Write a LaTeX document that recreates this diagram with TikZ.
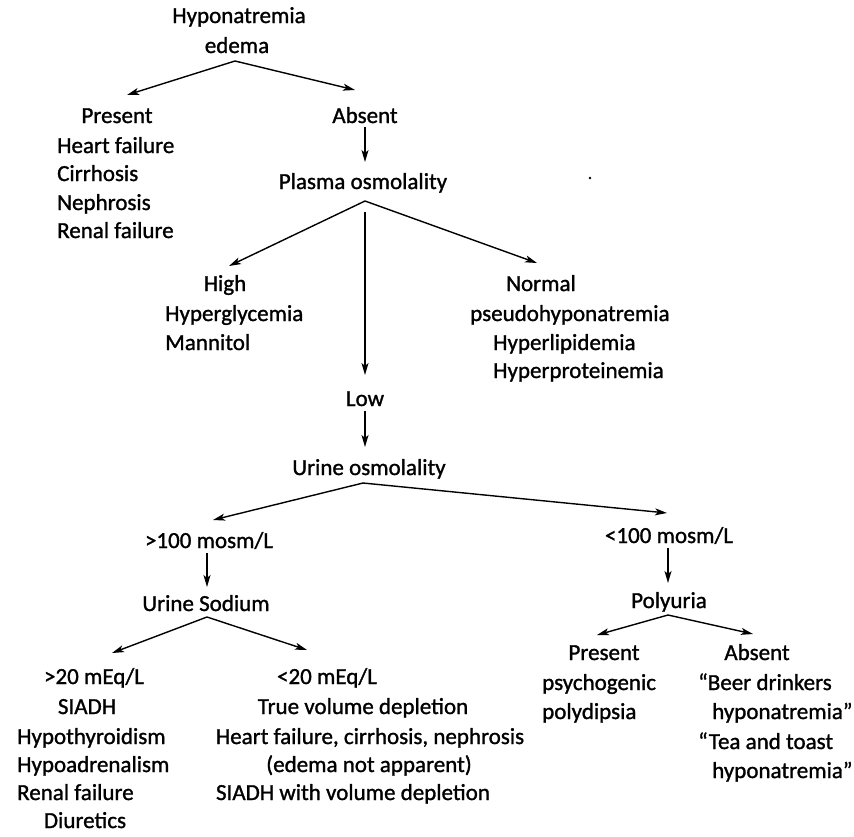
\documentclass[tikz,border=0pt]{standalone}
\usepackage{fontspec}
\setmainfont{Carlito}[FakeBold=1.2]
\usetikzlibrary{arrows.meta}
\begin{document}
\begin{tikzpicture}[x=1pt,y=-1pt,
  lbl/.style={inner sep=0pt,anchor=base,font=\fontsize{23}{28}\selectfont},
  lbw/.style={lbl,anchor=base west},
  arr/.style={line width=1.4pt,-{Stealth[length=12pt,width=7pt,inset=3pt]}}]
\useasboundingbox (0,0) rectangle (854,836);
% top
\node[lbl] (hypo) at (239,23) {Hyponatremia};
\node[lbl] (edema) at (237,53) {edema};
\node[lbl] (presA) at (117,123) {Present};
\node[lbw] (hf1) at (57,153) {Heart failure};
\node[lbw] (cir1) at (57,181) {Cirrhosis};
\node[lbw] (nep1) at (57,210) {Nephrosis};
\node[lbw] (ren1) at (57,238) {Renal failure};
\node[lbl] (absA) at (365,123) {Absent};
\node[lbl] (plasma) at (363,189) {Plasma osmolality};
\node[lbl] (high) at (225,291) {High};
\node[lbw] (hyperg) at (165,321) {Hyperglycemia};
\node[lbw] (mann) at (165,350) {Mannitol};
\node[lbl] (normal) at (541,291) {Normal};
\node[lbw] (pseudo) at (470,321) {pseudohyponatremia};
\node[lbw] (hlip) at (493,350) {Hyperlipidemia};
\node[lbw] (hprot) at (493,378) {Hyperproteinemia};
\node[lbl] (low) at (365,406) {Low};
\node[lbl] (uosm) at (369,475) {Urine osmolality};
\node[lbl] (gt100) at (209,548) {>100 mosm/L};
\node[lbl] (una) at (206,611) {Urine Sodium};
\node[lbl] (lt100) at (669,543) {<100 mosm/L};
\node[lbl] (poly) at (669,608) {Polyuria};
% bottom left
\node[lbl] (gt20) at (94,684) {>20 mEq/L};
\node[lbl] (siadh) at (87,714) {SIADH};
\node[lbw] (hthy) at (17,744) {Hypothyroidism};
\node[lbw] (hadr) at (17,772) {Hypoadrenalism};
\node[lbw] (ren2) at (17,800) {Renal failure};
\node[lbl] (diur) at (85,828) {Diuretics};
\node[lbl] (lt20) at (327,684) {<20 mEq/L};
\node[lbl] (tvd) at (363,714) {True volume depletion};
\node[lbl] (hfc) at (370,744) {Heart failure, cirrhosis, nephrosis};
\node[lbl] (ena) at (369,772) {(edema not apparent)};
\node[lbl] (svd) at (353,800) {SIADH with volume depletion};
% bottom right
\node[lbl] (presB) at (604,660) {Present};
\node[lbw] (psy) at (542,690) {psychogenic};
\node[lbw] (pdip) at (542,719) {polydipsia};
\node[lbl] (absB) at (757,660) {Absent};
\node[lbw] (beer1) at (698,690) {“Beer drinkers};
\node[lbw] (beer2) at (712,719) {hyponatremia”};
\node[lbw] (tea1) at (698,749) {“Tea and toast};
\node[lbw] (tea2) at (712,778) {hyponatremia”};
% stray dot
\fill (590,178) circle (1.3pt);
% fork coordinates
\coordinate (ap1) at (235,61);
\coordinate (toPresA) at (127,95);
\coordinate (toAbsA) at (355,90);
\coordinate (ap2) at (365,201);
\coordinate (toHigh) at (229,266);
\coordinate (toNormal) at (537,263);
\coordinate (ap3) at (363,483);
\coordinate (toGt) at (213,520);
\coordinate (toLt) at (667,513);
\coordinate (ap4) at (207,617);
\coordinate (toGt20) at (112,653);
\coordinate (toLt20) at (307,650);
\coordinate (ap5) at (668,615);
\coordinate (toPresB) at (597,635);
\coordinate (toAbsB) at (753,634);
% connectors
\draw[arr] (ap1) -- (toPresA);
\draw[arr] (ap1) -- (toAbsA);
\draw[arr] (365,127) -- (365,162);
\draw[arr] (ap2) -- (toHigh);
\draw[arr] (ap2) -- (toNormal);
\draw[arr] (365,212) -- (365,375);
\draw[arr] (365,411) -- (365,447);
\draw[arr] (ap3) -- (toGt);
\draw[arr] (ap3) -- (toLt);
\draw[arr] (207,553) -- (207,587);
\draw[arr] (ap4) -- (toGt20);
\draw[arr] (ap4) -- (toLt20);
\draw[arr] (668,548) -- (668,583);
\draw[arr] (ap5) -- (toPresB);
\draw[arr] (ap5) -- (toAbsB);
\end{tikzpicture}
\end{document}
